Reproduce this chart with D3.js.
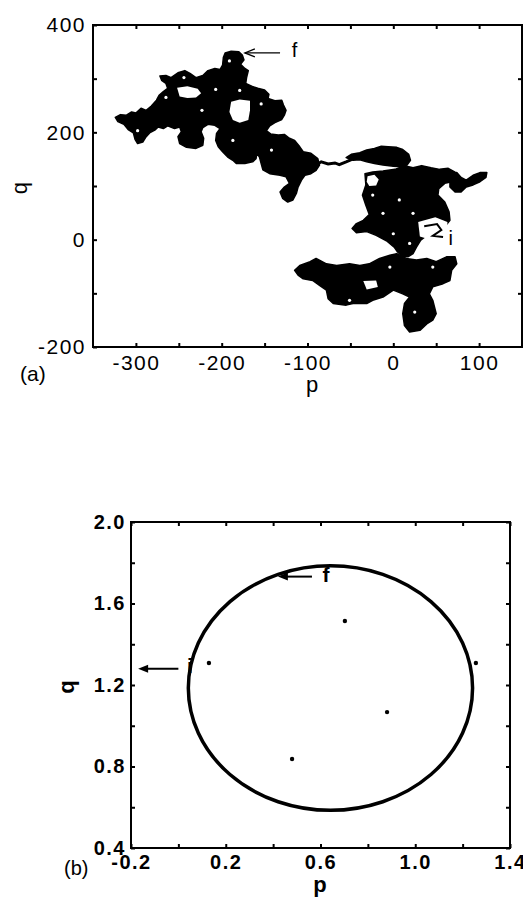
<!DOCTYPE html>
<html>
<head>
<meta charset="utf-8">
<script src="https://cdn.jsdelivr.net/npm/d3@7"></script>
<style>
  body { margin: 0; background: #fff; }
</style>
</head>
<body>
<div id="chart"></div>
<script>
// ---- panel (a): random-walk trace (p, q) ----
const walkMain = [[-324,228],[-318,233],[-311,232],[-305,238],[-300,236],[-294,245],[-288,241],[-282,249],[-276,260],[-273,269],[-268,276],[-263,282],[-265,291],[-270,297],[-272,305],[-265,306],[-259,302],[-251,311],[-243,315],[-237,310],[-230,302],[-222,306],[-216,315],[-208,319],[-202,317],[-199,325],[-198,340],[-196,348],[-189,351],[-180,350],[-176,344],[-174,335],[-178,327],[-173,319],[-169,315],[-171,302],[-172,291],[-165,286],[-158,282],[-150,279],[-145,271],[-146,263],[-138,259],[-130,260],[-128,251],[-125,241],[-127,232],[-130,224],[-138,218],[-144,212],[-148,203],[-143,197],[-134,195],[-127,196],[-121,189],[-115,185],[-109,173],[-105,164],[-96,161],[-88,151],[-86,139],[-90,129],[-96,123],[-103,120],[-107,111],[-111,98],[-113,86],[-117,74],[-123,70],[-129,77],[-132,89],[-127,98],[-121,105],[-125,117],[-132,120],[-144,123],[-152,130],[-154,142],[-156,154],[-159,161],[-160,151],[-164,145],[-173,142],[-183,142],[-187,148],[-193,154],[-199,164],[-204,173],[-207,185],[-206,198],[-202,207],[-208,213],[-216,215],[-222,209],[-224,201],[-221,189],[-222,176],[-230,170],[-241,172],[-249,179],[-251,192],[-247,201],[-249,210],[-255,207],[-263,212],[-268,207],[-274,210],[-278,204],[-284,199],[-288,192],[-292,182],[-298,179],[-301,187],[-303,199],[-309,205],[-314,215],[-321,220]];
const walkUpperRight = [[-55,153],[-49,159],[-39,162],[-31,167],[-22,170],[-14,174],[-6,173],[4,172],[11,168],[18,159],[20,148],[16,139],[9,136],[0,137],[-12,139],[-22,142],[-31,145],[-39,149],[-47,148]];
const walkStrand = [[-90,139],[-84,145],[-76,141],[-68,143],[-63,140],[-55,145],[-49,149],[-41,158]];
const walkRight = [[-33,123],[-24,126],[-12,128],[2,131],[13,138],[23,134],[33,138],[44,134],[54,131],[64,133],[72,126],[74,117],[68,108],[60,105],[53,95],[52,83],[60,70],[65,52],[66,36],[60,24],[55,11],[46,4],[39,8],[32,-1],[27,-14],[23,-26],[17,-32],[11,-32],[5,-23],[1,-14],[-8,-2],[-20,8],[-31,15],[-43,13],[-48,21],[-43,30],[-35,36],[-28,47],[-32,64],[-36,83],[-32,102]];
const walkArm = [[66,123],[74,125],[79,116],[85,111],[93,120],[101,125],[109,125],[108,116],[101,108],[93,102],[85,98],[79,89],[72,89],[66,98]];
const walkLower = [[-115,-57],[-109,-48],[-97,-41],[-90,-35],[-78,-45],[-66,-48],[-51,-45],[-39,-48],[-28,-45],[-16,-35],[-4,-29],[4,-26],[15,-35],[27,-38],[39,-35],[50,-41],[62,-32],[72,-32],[74,-45],[68,-57],[66,-76],[58,-82],[46,-88],[42,-101],[46,-113],[50,-138],[46,-150],[39,-157],[31,-169],[19,-172],[13,-160],[11,-138],[13,-119],[19,-107],[11,-101],[0,-94],[-12,-107],[-24,-113],[-31,-119],[-47,-119],[-55,-122],[-70,-119],[-76,-110],[-78,-94],[-86,-85],[-94,-76],[-105,-73],[-111,-66]];
const walkHoles = [
  [[-252,283],[-240,286],[-228,281],[-224,273],[-230,265],[-240,264],[-249,267]],
  [[-189,257],[-179,261],[-167,259],[-167,241],[-169,223],[-179,218],[-187,223],[-191,238]],
  [[-30,118],[-22,121],[-17,112],[-20,101],[-28,100],[-31,108]],
  [[29,33],[49,42],[63,33],[63,3],[49,-3],[31,6]],
  [[-35,-77],[-20,-76],[-18,-88],[-31,-93]]
];
const walkSpecks = [[-244,302],[-191,333],[-207,280],[-179,278],[-223,241],[-154,253],[-265,265],[-298,203],[-142,167],[-187,185],[-24,83],[7,74],[23,49],[0,11],[19,-7],[-24,-82],[-4,-51],[25,-135],[-51,-113],[46,-51],[-12,49]];
const startArrowA = [[36,25],[51,29],[56,18],[46,7],[58,5]];

const aTickX  = [-300,-250,-200,-150,-100,-50,0,50,100];
const aLabelX = [-300,-200,-100,0,100];
const aTickY  = [-100,0,100,200,300];
const aLabelY = [-200,0,200,400];

// ---- panel (b): closed orbit and scattered points ----
const ringCenter = [0.642, 1.185];
const ringRadius = 0.6;
const loosePoints = [[0.703,1.514],[0.129,1.308],[1.256,1.308],[0.881,1.067],[0.480,0.837]];

const bTickX  = [-0.2,0,0.2,0.4,0.6,0.8,1.0,1.2,1.4];
const bLabelX = ["-0.2","0.2","0.6","1.0","1.4"];
const bTickY  = [0.4,0.6,0.8,1.0,1.2,1.4,1.6,1.8,2.0];
const bLabelY = ["0.4","0.8","1.2","1.6","2.0"];

const svg = d3.select("#chart").append("svg")
  .attr("width", 523).attr("height", 905)
  .style("font-family", "'Liberation Sans', Arial, sans-serif");

// ================= panel (a) =================
const xa = d3.scaleLinear().domain([-350, 150]).range([93, 522]);
const ya = d3.scaleLinear().domain([-200, 400]).range([347, 25]);
const lineA = d3.line().x(d => xa(d[0])).y(d => ya(d[1]));

const ga = svg.append("g");
[walkMain, walkUpperRight, walkRight, walkArm, walkLower].forEach(pts => {
  ga.append("path").attr("d", lineA(pts) + "Z")
    .attr("fill", "#000").attr("stroke", "#000").attr("stroke-width", 1.5)
    .attr("stroke-linejoin", "round");
});
ga.append("path").attr("d", lineA(walkStrand))
  .attr("fill", "none").attr("stroke", "#000").attr("stroke-width", 3);
walkHoles.forEach(pts => {
  ga.append("path").attr("d", lineA(pts) + "Z").attr("fill", "#fff");
});
ga.selectAll(".speck").data(walkSpecks).enter().append("circle")
  .attr("cx", d => xa(d[0])).attr("cy", d => ya(d[1])).attr("r", 1.6).attr("fill", "#fff");
ga.append("path").attr("d", lineA(startArrowA))
  .attr("fill", "none").attr("stroke", "#000").attr("stroke-width", 2);

// axes (a)
function styleAxis(g, size, weight) {
  g.select(".domain").remove();
  g.selectAll(".tick line").attr("stroke", "#000").attr("stroke-width", 2);
  g.selectAll("text").attr("fill", "#000")
    .style("font-size", size).style("font-weight", weight)
    .style("letter-spacing", "1.5px")
    .style("font-family", "'Liberation Sans', Arial, sans-serif");
}
const fmtA = lab => d => lab.includes(d) ? String(d) : "";

ga.append("g").attr("transform", `translate(0,${ya(-200)})`)
  .call(d3.axisBottom(xa).tickValues(aTickX).tickSize(-4).tickPadding(8).tickFormat(fmtA(aLabelX)))
  .call(g => styleAxis(g, "21px", "normal"));
ga.append("g").attr("transform", `translate(0,${ya(400)})`)
  .call(d3.axisTop(xa).tickValues(aTickX).tickSize(-4).tickFormat(""))
  .call(g => styleAxis(g, "21px", "normal"));
ga.append("g").attr("transform", `translate(${xa(-350)},0)`)
  .call(d3.axisLeft(ya).tickValues(aTickY.concat([-200, 400])).tickSize(-4).tickPadding(7).tickFormat(fmtA(aLabelY)))
  .call(g => styleAxis(g, "21px", "normal"));
ga.append("g").attr("transform", `translate(${xa(150)},0)`)
  .call(d3.axisRight(ya).tickValues(aTickY).tickSize(-4).tickFormat(""))
  .call(g => styleAxis(g, "21px", "normal"));
ga.append("rect")
  .attr("x", xa(-350)).attr("y", ya(400))
  .attr("width", xa(150) - xa(-350)).attr("height", ya(-200) - ya(400))
  .attr("fill", "none").attr("stroke", "#000").attr("stroke-width", 2);

// annotations (a)
const arrA = {from: [-132, 348], to: [-173, 348]};
ga.append("line")
  .attr("x1", xa(arrA.from[0])).attr("y1", ya(arrA.from[1]))
  .attr("x2", xa(arrA.to[0])).attr("y2", ya(arrA.to[1]))
  .attr("stroke", "#000").attr("stroke-width", 1.3);
ga.append("path")
  .attr("d", `M${xa(arrA.to[0]) + 10},${ya(arrA.to[1]) - 4}L${xa(arrA.to[0])},${ya(arrA.to[1])}L${xa(arrA.to[0]) + 10},${ya(arrA.to[1]) + 4}`)
  .attr("fill", "none").attr("stroke", "#000").attr("stroke-width", 1.3);
ga.append("text").attr("x", xa(-115)).attr("y", ya(340))
  .attr("text-anchor", "middle").style("font-size", "20px").text("f");
ga.append("text").attr("x", xa(67)).attr("y", ya(-10))
  .attr("text-anchor", "middle").style("font-size", "20px").text("i");

ga.append("text").attr("x", 312).attr("y", 392)
  .attr("text-anchor", "middle").style("font-size", "22px").text("p");
ga.append("text").attr("transform", "translate(27,188) rotate(-90)")
  .attr("text-anchor", "middle").style("font-size", "22px").text("q");
ga.append("text").attr("x", 20).attr("y", 381)
  .style("font-size", "21px").text("(a)");

// ================= panel (b) =================
const xb = d3.scaleLinear().domain([-0.2, 1.4]).range([131, 510]);
const yb = d3.scaleLinear().domain([0.4, 2.0]).range([848, 522]);
const gb = svg.append("g");
const fmtB = lab => d => lab.includes(d.toFixed(1)) ? d.toFixed(1) : "";

gb.append("ellipse")
  .attr("cx", xb(ringCenter[0])).attr("cy", yb(ringCenter[1]))
  .attr("rx", xb(ringCenter[0] + ringRadius) - xb(ringCenter[0]))
  .attr("ry", yb(ringCenter[1]) - yb(ringCenter[1] + ringRadius))
  .attr("fill", "none").attr("stroke", "#000").attr("stroke-width", 3.5);
gb.selectAll(".pt").data(loosePoints).enter().append("circle")
  .attr("cx", d => xb(d[0])).attr("cy", d => yb(d[1])).attr("r", 2.2).attr("fill", "#000");

gb.append("g").attr("transform", `translate(0,${yb(0.4)})`)
  .call(d3.axisBottom(xb).tickValues(bTickX).tickSize(-4).tickPadding(7).tickFormat(fmtB(bLabelX)))
  .call(g => styleAxis(g, "20px", "bold"));
gb.append("g").attr("transform", `translate(0,${yb(2.0)})`)
  .call(d3.axisTop(xb).tickValues(bTickX).tickSize(-4).tickFormat(""))
  .call(g => styleAxis(g, "20px", "bold"));
gb.append("g").attr("transform", `translate(${xb(-0.2)},0)`)
  .call(d3.axisLeft(yb).tickValues(bTickY).tickSize(-4).tickPadding(5).tickFormat(fmtB(bLabelY)))
  .call(g => styleAxis(g, "20px", "bold"));
gb.append("g").attr("transform", `translate(${xb(1.4)},0)`)
  .call(d3.axisRight(yb).tickValues(bTickY).tickSize(-4).tickFormat(""))
  .call(g => styleAxis(g, "20px", "bold"));
gb.append("rect")
  .attr("x", xb(-0.2)).attr("y", yb(2.0))
  .attr("width", xb(1.4) - xb(-0.2)).attr("height", yb(0.4) - yb(2.0))
  .attr("fill", "none").attr("stroke", "#000").attr("stroke-width", 2);

// annotations (b)
const arrB = [
  {from: [0.0, 1.28], to: [-0.17, 1.28], label: "i", at: [0.049, 1.259]},
  {from: [0.564, 1.732], to: [0.42, 1.732], label: "f", at: [0.623, 1.705]}
];
arrB.forEach(a => {
  const x1 = xb(a.from[0]), x2 = xb(a.to[0]), y = yb(a.from[1]);
  gb.append("line").attr("x1", x1).attr("y1", y).attr("x2", x2 + 6).attr("y2", y)
    .attr("stroke", "#000").attr("stroke-width", 2);
  gb.append("path").attr("d", `M${x2},${y}L${x2 + 10},${y - 4}L${x2 + 10},${y + 4}Z`)
    .attr("fill", "#000");
  gb.append("text").attr("x", xb(a.at[0])).attr("y", yb(a.at[1]))
    .attr("text-anchor", "middle").style("font-size", "21px").style("font-weight", "bold")
    .text(a.label);
});

gb.append("text").attr("x", 320).attr("y", 892)
  .attr("text-anchor", "middle").style("font-size", "22px").style("font-weight", "bold").text("p");
gb.append("text").attr("transform", "translate(74,687) rotate(-90)")
  .attr("text-anchor", "middle").style("font-size", "22px").style("font-weight", "bold").text("q");
gb.append("text").attr("x", 64).attr("y", 875)
  .style("font-size", "20px").text("(b)");
</script>
</body>
</html>
